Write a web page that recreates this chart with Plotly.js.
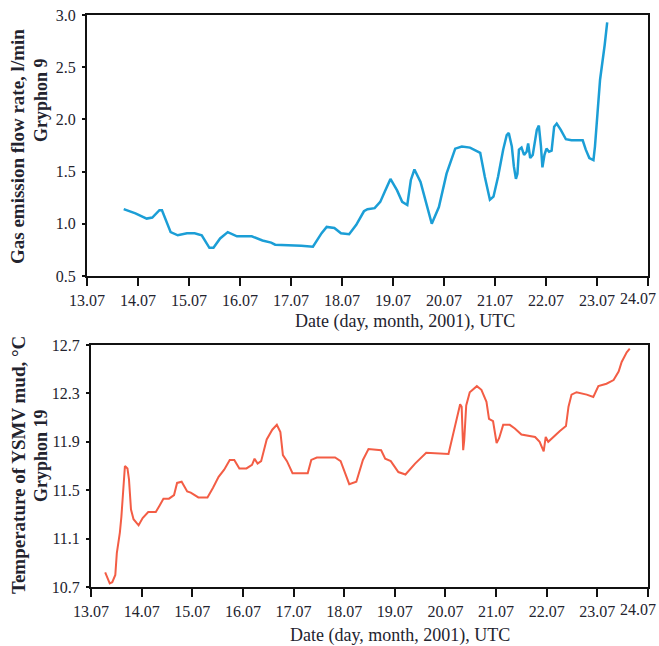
<!DOCTYPE html>
<html>
<head>
<meta charset="utf-8">
<script src="https://cdn.plot.ly/plotly-3.0.1.min.js"></script>
<style>html,body{margin:0;padding:0;background:#fff;}#chart{width:659px;height:646px;}</style>
</head>
<body>
<div id="chart"></div>
<script>
// ---- data ----
const xTickVals = [13, 14, 15, 16, 17, 18, 19, 20, 21, 22, 23, 24];
const xTickLabels = ['13.07', '14.07', '15.07', '16.07', '17.07', '18.07', '19.07', '20.07', '21.07', '22.07', '23.07', '24.07'];
const gasTickVals = [0.5, 1.0, 1.5, 2.0, 2.5, 3.0];
const gasTickLabels = ['0.5', '1.0', '1.5', '2.0', '2.5', '3.0'];
const tempTickVals = [10.7, 11.1, 11.5, 11.9, 12.3, 12.7];
const tempTickLabels = ['10.7', '11.1', '11.5', '11.9', '12.3', '12.7'];

// Gryphon 9 gas emission flow rate (day of July 2001, l/min)
const gasDay = [13.72, 13.95, 14.17, 14.28, 14.42, 14.47, 14.64, 14.78, 14.96, 15.11, 15.25, 15.40, 15.48, 15.61, 15.76, 15.94, 16.23, 16.44, 16.61, 16.69, 17.20, 17.43, 17.60, 17.70, 17.85, 17.98, 18.14, 18.28, 18.43, 18.50, 18.64, 18.75, 18.84, 18.95, 19.08, 19.18, 19.28, 19.35, 19.42, 19.54, 19.65, 19.76, 19.90, 20.05, 20.22, 20.35, 20.51, 20.71, 20.80, 20.90, 20.97, 21.06, 21.16, 21.23, 21.27, 21.33, 21.37, 21.41, 21.44, 21.47, 21.52, 21.57, 21.62, 21.65, 21.69, 21.74, 21.82, 21.86, 21.90, 21.93, 21.97, 22.01, 22.06, 22.11, 22.16, 22.21, 22.29, 22.39, 22.50, 22.72, 22.78, 22.85, 22.93, 22.96, 23.01, 23.06, 23.15, 23.20];
const gasFlow = [1.14, 1.10, 1.05, 1.06, 1.13, 1.13, 0.92, 0.89, 0.91, 0.91, 0.89, 0.77, 0.77, 0.86, 0.92, 0.88, 0.88, 0.84, 0.82, 0.80, 0.79, 0.78, 0.91, 0.97, 0.96, 0.91, 0.90, 0.99, 1.12, 1.14, 1.15, 1.21, 1.31, 1.43, 1.32, 1.21, 1.18, 1.42, 1.52, 1.40, 1.20, 1.00, 1.16, 1.48, 1.72, 1.74, 1.73, 1.68, 1.45, 1.23, 1.26, 1.45, 1.71, 1.85, 1.87, 1.74, 1.55, 1.43, 1.48, 1.71, 1.73, 1.66, 1.69, 1.77, 1.63, 1.66, 1.90, 1.94, 1.75, 1.54, 1.66, 1.72, 1.69, 1.70, 1.93, 1.96, 1.90, 1.81, 1.80, 1.80, 1.71, 1.63, 1.61, 1.74, 2.06, 2.38, 2.71, 2.93];

// Gryphon 19 mud temperature (day of July 2001, °C)
const tempDay = [13.28, 13.37, 13.42, 13.48, 13.51, 13.57, 13.60, 13.64, 13.67, 13.72, 13.75, 13.79, 13.84, 13.94, 14.02, 14.13, 14.28, 14.35, 14.43, 14.54, 14.64, 14.70, 14.79, 14.90, 14.97, 15.12, 15.30, 15.41, 15.52, 15.63, 15.74, 15.83, 15.93, 16.07, 16.18, 16.23, 16.29, 16.36, 16.47, 16.58, 16.67, 16.74, 16.79, 16.87, 16.98, 17.28, 17.35, 17.46, 17.82, 17.93, 18.02, 18.10, 18.24, 18.37, 18.48, 18.73, 18.81, 18.92, 19.07, 19.21, 19.40, 19.62, 20.06, 20.16, 20.29, 20.32, 20.35, 20.37, 20.41, 20.48, 20.62, 20.71, 20.81, 20.86, 20.94, 21.01, 21.06, 21.14, 21.27, 21.37, 21.50, 21.77, 21.86, 21.94, 21.98, 22.03, 22.13, 22.26, 22.38, 22.43, 22.49, 22.59, 22.79, 22.92, 23.02, 23.18, 23.32, 23.42, 23.48, 23.58, 23.64];
const tempMud = [10.82, 10.73, 10.74, 10.80, 10.98, 11.15, 11.28, 11.53, 11.70, 11.68, 11.59, 11.34, 11.26, 11.21, 11.27, 11.32, 11.32, 11.37, 11.43, 11.43, 11.46, 11.56, 11.57, 11.49, 11.48, 11.44, 11.44, 11.52, 11.61, 11.67, 11.75, 11.75, 11.68, 11.68, 11.71, 11.76, 11.72, 11.74, 11.92, 12.00, 12.04, 11.98, 11.79, 11.74, 11.64, 11.64, 11.75, 11.77, 11.77, 11.74, 11.64, 11.55, 11.57, 11.75, 11.84, 11.83, 11.76, 11.74, 11.65, 11.63, 11.72, 11.81, 11.80, 11.97, 12.21, 12.19, 11.83, 11.91, 12.20, 12.31, 12.36, 12.33, 12.23, 12.09, 12.07, 11.89, 11.93, 12.04, 12.04, 12.01, 11.96, 11.94, 11.90, 11.82, 11.94, 11.90, 11.94, 11.99, 12.03, 12.19, 12.29, 12.31, 12.29, 12.27, 12.36, 12.38, 12.41, 12.48, 12.56, 12.64, 12.67];

const xTitle = 'Date (day, month, 2001), UTC';
const gasTitle = ['Gas emission flow rate, l/min', 'Gryphon 9'];
const tempTitle = ['Temperature of YSMV mud, °C', 'Gryphon 19'];

// ---- layout helpers ----
const W = 659, H = 646;
const px = x => x / W;
const py = y => 1 - y / H;
const serif = 'Liberation Serif, Times New Roman, serif';
const ink = '#23232e';

const lastIdx = xTickLabels.length - 1;
const axisTickText = xTickLabels.map((t, i) => i === lastIdx ? '' : t);

function xAxis(left, anchor) {
  return {
    domain: [px(left), px(648)], anchor: anchor,
    range: [13, 24], tickmode: 'array', tickvals: xTickVals, ticktext: axisTickText,
    ticks: 'outside', ticklen: 8, tickwidth: 2, tickcolor: '#111',
    showline: true, linecolor: '#111', linewidth: 2, mirror: true,
    showgrid: false, zeroline: false,
    tickfont: {family: serif, size: 16, color: ink},
    ticklabelstandoff: 1
  };
}
function yAxis(top, bottom, range, vals, labels, anchor) {
  return {
    domain: [py(bottom), py(top)], anchor: anchor,
    range: range, tickmode: 'array', tickvals: vals, ticktext: labels,
    ticks: 'outside', ticklen: 3, tickwidth: 2, tickcolor: '#111',
    showline: true, linecolor: '#111', linewidth: 2, mirror: true,
    showgrid: false, zeroline: false,
    tickfont: {family: serif, size: 16, color: ink},
    ticklabelstandoff: 3
  };
}

const traces = [
  {x: gasDay, y: gasFlow, type: 'scatter', mode: 'lines', xaxis: 'x', yaxis: 'y',
   line: {color: '#1b9ed6', width: 2.5}, hoverinfo: 'x+y'},
  {x: tempDay, y: tempMud, type: 'scatter', mode: 'lines', xaxis: 'x2', yaxis: 'y2',
   line: {color: '#f35d45', width: 2}, hoverinfo: 'x+y'}
];

const bold1 = {family: serif, size: 19, color: ink};
const bold2 = {family: serif, size: 18, color: ink};
const annotations = [
  {text: '<b>' + gasTitle[0] + '</b>', xref: 'paper', yref: 'paper', x: px(18), y: py(147), textangle: -90, showarrow: false, font: bold1, xanchor: 'center', yanchor: 'middle'},
  {text: '<b>' + gasTitle[1] + '</b>', xref: 'paper', yref: 'paper', x: px(41), y: py(100), textangle: -90, showarrow: false, font: bold2, xanchor: 'center', yanchor: 'middle'},
  {text: '<b>' + tempTitle[0] + '</b>', xref: 'paper', yref: 'paper', x: px(18), y: py(465), textangle: -90, showarrow: false, font: bold1, xanchor: 'center', yanchor: 'middle'},
  {text: '<b>' + tempTitle[1] + '</b>', xref: 'paper', yref: 'paper', x: px(41), y: py(456), textangle: -90, showarrow: false, font: bold2, xanchor: 'center', yanchor: 'middle'},
  {text: xTitle, xref: 'paper', yref: 'paper', x: px(405), y: py(321), showarrow: false, font: {family: serif, size: 18, color: ink}, xanchor: 'center', yanchor: 'middle'},
  {text: xTitle, xref: 'paper', yref: 'paper', x: px(400), y: py(635), showarrow: false, font: {family: serif, size: 18, color: ink}, xanchor: 'center', yanchor: 'middle'},
  // last tick label placed inside the page edge
  {text: xTickLabels[lastIdx], xref: 'x', yref: 'paper', x: xTickVals[lastIdx], y: py(276), yshift: -22, xshift: 10, showarrow: false, font: {family: serif, size: 16, color: ink}, xanchor: 'right', yanchor: 'middle'},
  {text: xTickLabels[lastIdx], xref: 'x2', yref: 'paper', x: xTickVals[lastIdx], y: py(587), yshift: -22, xshift: 10, showarrow: false, font: {family: serif, size: 16, color: ink}, xanchor: 'right', yanchor: 'middle'}
];

const layout = {
  width: W, height: H,
  margin: {l: 0, r: 0, t: 0, b: 0},
  paper_bgcolor: '#ffffff', plot_bgcolor: '#ffffff',
  showlegend: false,
  xaxis: xAxis(87, 'y'),
  yaxis: yAxis(15, 276, [0.5, 3.0], gasTickVals, gasTickLabels, 'x'),
  xaxis2: xAxis(91, 'y2'),
  yaxis2: yAxis(345, 587, [10.7, 12.7], tempTickVals, tempTickLabels, 'x2'),
  annotations: annotations
};

Plotly.newPlot('chart', traces, layout, {staticPlot: true, displayModeBar: false});
</script>
</body>
</html>
